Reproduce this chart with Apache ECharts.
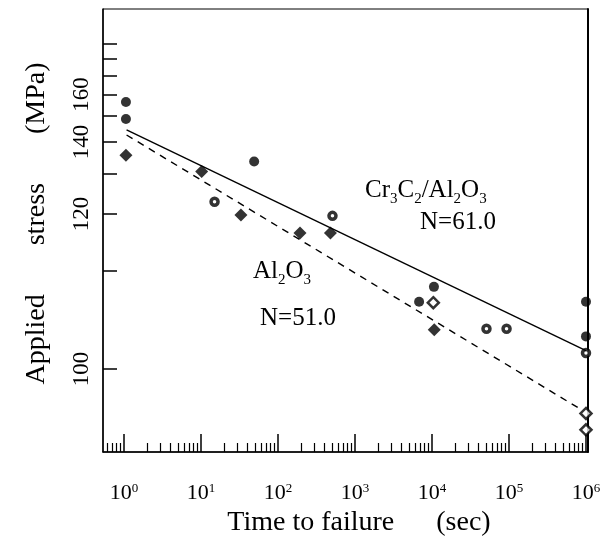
<!DOCTYPE html>
<html><head><meta charset="utf-8">
<script src="https://cdn.jsdelivr.net/npm/echarts@6/dist/echarts.min.js"></script>
<style>html,body{margin:0;padding:0;background:#fff}#c{width:610px;height:539px}</style>
</head><body><div id="c"></div>
<script>
// Time to failure (sec) and applied stress (MPa)
const crFilledTime   = [1.06, 1.06, 49, 6800, 10600, 1e6, 1e6];
const crFilledStress = [156.3, 148.8, 133.5, 106.1, 107.9, 106.1, 102.6];
const crOpenTime     = [15, 510, 51000, 93000, 1e6];
const crOpenStress   = [122.7, 119.6, 103.3, 103.3, 101.2];
const alFilledTime   = [1.06, 10.2, 33, 193, 480, 10700];
const alFilledStress = [135.5, 130.5, 119.8, 116.2, 116.2, 103.2];
const alOpenTime     = [10400, 1e6, 1e6];
const alOpenStress   = [106.0, 97.3, 96.5];
// fitted lines
const crFitTime   = [1.08, 1e6];
const crFitStress = [144.4, 101.4];
const alFitTime   = [1.08, 7.9e5];
const alFitStress = [142.5, 97.6];
// axis ticks
const xTickValues  = [1, 10, 100, 1e3, 1e4, 1e5, 1e6];
const yTickLabels  = ['100', '120', '140', '160'];
const yTickStress  = [100, 110, 120, 130, 140, 150, 160, 170, 180, 190];

// the stress axis is logarithmic in (stress - 90 MPa)
const STRESS_BASE = 90;
const X_MIN = 0.5337, X_MAX = 1.062e6;
const Y_MIN = 5.554, Y_MAX = 128.2;

const pts = (ts, ss) => ts.map((t, i) => [t, ss[i] - STRESS_BASE]);
const xMinor = [];
for (let k = -1; k <= 5; k++) for (let m = 2; m <= 9; m++) {
  const v = m * Math.pow(10, k);
  if (v > X_MIN && v < X_MAX) xMinor.push(v);
}
const FONT = '"Liberation Serif", "Times New Roman", serif';
const black = '#000';

const chart = echarts.init(document.getElementById('c'), null, {renderer: 'canvas'});
chart.setOption({
  animation: false,
  backgroundColor: '#fff',
  grid: {left: 103, right: 22, top: 9, bottom: 87, show: true, borderColor: black, borderWidth: 1,
         outerBoundsMode: 'none', containLabel: false},
  xAxis: [{
    type: 'log', position: 'bottom', min: X_MIN, max: X_MAX,
    axisLine: {lineStyle: {color: black, width: 1.5}},
    axisTick: {inside: true, length: 18, customValues: xTickValues, lineStyle: {color: black, width: 1.5}},
    axisLabel: {
      customValues: xTickValues, margin: 30, color: black, fontFamily: FONT,
      formatter: v => '{b|10}{s|' + Math.round(Math.log10(v)) + '}',
      rich: {b: {fontSize: 22, fontFamily: FONT, color: black}, s: {fontSize: 13, fontFamily: FONT, color: black, verticalAlign: 'top'}}
    },
    splitLine: {show: false},
    name: 'Time to failure      (sec)', nameLocation: 'middle', nameGap: 56,
    nameTextStyle: {fontFamily: FONT, fontSize: 28, color: black, padding: [0, 0, 0, 27]}
  }, {
    type: 'log', position: 'bottom', min: X_MIN, max: X_MAX,
    axisLine: {show: false},
    axisTick: {inside: true, length: 9, customValues: xMinor, lineStyle: {color: black, width: 1.2}},
    axisLabel: {show: false}, splitLine: {show: false}
  }],
  yAxis: [{
    type: 'log', position: 'left', min: Y_MIN, max: Y_MAX,
    axisLine: {lineStyle: {color: black, width: 1.5}},
    axisTick: {inside: true, length: 14, customValues: yTickStress.map(s => s - STRESS_BASE), lineStyle: {color: black, width: 1.5}},
    axisLabel: {
      customValues: yTickLabels.map(l => Number(l) - STRESS_BASE), rotate: 90, margin: 10,
      color: black, fontFamily: FONT, fontSize: 23,
      formatter: v => String(Math.round(v + STRESS_BASE))
    },
    splitLine: {show: false},
    name: 'Applied       stress       (MPa)', nameLocation: 'middle', nameRotate: 90, nameGap: 52,
    nameTextStyle: {fontFamily: FONT, fontSize: 28, color: black, padding: [0, 0, 0, 14]}
  }, {
    type: 'log', position: 'right', min: Y_MIN, max: Y_MAX,
    axisLine: {show: true, lineStyle: {color: black, width: 2}},
    axisTick: {show: false}, axisLabel: {show: false}, splitLine: {show: false}
  }],
  series: [
    {type: 'line', data: pts(crFitTime, crFitStress), showSymbol: false, silent: true,
     lineStyle: {color: black, width: 1.4}},
    {type: 'line', data: pts(alFitTime, alFitStress), showSymbol: false, silent: true,
     lineStyle: {color: black, width: 1.4, type: [7, 6]}},
    {type: 'scatter', data: pts(crFilledTime, crFilledStress), symbol: 'circle', symbolSize: 10,
     itemStyle: {color: black}},
    {type: 'scatter', data: pts(crOpenTime, crOpenStress), symbol: 'circle', symbolSize: 7,
     itemStyle: {color: '#fff', borderColor: black, borderWidth: 3.5}},
    {type: 'scatter', data: pts(alFilledTime, alFilledStress), symbol: 'diamond', symbolSize: 13,
     itemStyle: {color: black}},
    {type: 'scatter', data: pts(alOpenTime, alOpenStress), symbol: 'diamond', symbolSize: 11,
     itemStyle: {color: '#fff', borderColor: black, borderWidth: 2.5}}
  ],
  graphic: [
    {type: 'text', left: 365, top: 178, style: {
      text: '{n|Cr}{s|3}{n|C}{s|2}{n|/Al}{s|2}{n|O}{s|3}', fill: black,
      rich: {n: {fontSize: 25, fontFamily: FONT, padding: [0, 0, 4, 0]}, s: {fontSize: 15, fontFamily: FONT, verticalAlign: 'bottom'}}}},
    {type: 'text', left: 420, top: 210, style: {text: 'N=61.0', font: '25px ' + FONT, fill: black}},
    {type: 'text', left: 253, top: 259, style: {
      text: '{n|Al}{s|2}{n|O}{s|3}', fill: black,
      rich: {n: {fontSize: 25, fontFamily: FONT, padding: [0, 0, 4, 0]}, s: {fontSize: 15, fontFamily: FONT, verticalAlign: 'bottom'}}}},
    {type: 'text', left: 260, top: 306, style: {text: 'N=51.0', font: '25px ' + FONT, fill: black}}
  ]
});
</script>
</body></html>
